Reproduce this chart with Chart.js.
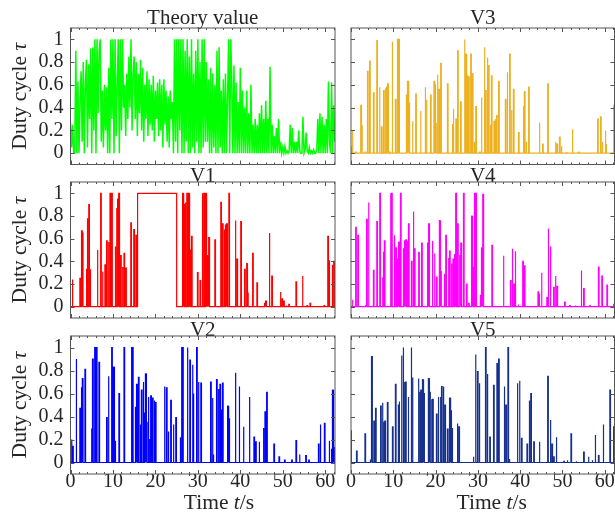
<!DOCTYPE html>
<html>
<head>
<meta charset="utf-8">
<script src="https://cdn.jsdelivr.net/npm/chart.js@4.4.1/dist/chart.umd.min.js"></script>
<style>
    html, body { margin: 0; padding: 0; background: #fff; }
    #fig { position: relative; width: 615px; height: 514px; overflow: hidden; }
    #fig canvas { position: absolute; }
</style>
</head>
<body>
<div id="fig">
    <canvas id="c0"></canvas>
    <canvas id="c1"></canvas>
    <canvas id="c2"></canvas>
    <canvas id="c3"></canvas>
    <canvas id="c4"></canvas>
    <canvas id="c5"></canvas>
</div>
<script>
/* =====================================
   Data
===================================== */
const xTicks = [0, 10, 20, 30, 40, 50, 60];
const xMinorTicks = [2, 4, 6, 8, 12, 14, 16, 18, 22, 24, 26, 28, 32, 34, 36, 38,
                     42, 44, 46, 48, 52, 54, 56, 58, 62];
const yTicks = [0, 0.2, 0.4, 0.6, 0.8, 1];
const titles = ["Theory value", "V1", "V2", "V3", "V4", "V5"];

// theory value, one sample every 0.25 s
const theoryStep = 0.25;
const theoryValues = [
    0.27, 0.05, 0.25, 0.0,   0.0, 0.9, 0.0, 0.63,    0.0, 0.45, 0.72, 0.1,   0.8, 0.0, 0.6, 0.82,
    0.05, 0.78, 0.3, 0.92,   0.0, 0.93, 0.2, 1.0,    0.0, 1.0, 0.35, 0.9,    1.0, 0.1, 0.55, 0.05,
    0.6, 0.2, 0.58, 0.0,     0.75, 0.0, 1.0, 0.3,    1.0, 0.0, 1.0, 0.15,    0.6, 1.0, 0.0, 1.0,
    0.2, 1.0, 0.4, 0.6,      0.15, 0.7, 0.3, 0.85,   0.4, 1.0, 0.2, 0.7,     0.85, 0.3, 0.8, 0.15,
    0.7, 0.35, 0.82, 0.2,    0.75, 0.1, 0.6, 0.3,    0.72, 0.15, 0.65, 0.25, 0.6, 0.2, 0.68, 0.1,
    0.55, 0.3, 0.62, 0.15,   0.65, 0.2, 0.6, 0.05,   0.65, 0.25, 0.55, 0.1,  0.5, 0.05, 0.55, 0.3,
    0.45, 0.0, 1.0, 0.1,     1.0, 0.0, 1.0, 0.2,     1.0, 0.0, 1.0, 0.0,     0.9, 0.1, 1.0, 0.0,
    0.85, 0.0, 1.0, 0.05,    0.7, 0.0, 0.9, 0.1,     1.0, 0.0, 0.8, 0.0,     1.0, 0.05, 1.0, 0.1,
    0.8, 0.1, 0.65, 0.0,     0.75, 0.0, 0.7, 0.05,   0.6, 0.0, 0.9, 0.0,     0.93, 0.05, 0.55, 0.0,
    0.65, 0.0, 0.7, 0.0,     0.5, 1.0, 0.0, 1.0,     0.6, 0.0, 0.77, 0.0,    0.62, 0.0, 0.45, 0.0,
    0.75, 0.0, 0.55, 0.0,    0.4, 0.0, 0.55, 0.0,    0.35, 0.0, 0.6, 0.0,    0.25, 0.0, 0.3, 0.0,
    0.25, 0.0, 0.35, 0.0,    0.42, 0.0, 0.3, 0.0,    0.46, 0.0, 0.3, 0.0,    0.76, 0.0, 0.25, 0.0,
    0.15, 0.0, 0.22, 0.0,    0.3, 0.0, 0.1, 0.0,     0.05, 0.0, 0.06, 0.0,   0.02, 0.0, 0.02, 0.25,
    0.0, 0.22, 0.0, 0.1,     0.0, 0.1, 0.0, 0.2,     0.02, 0.0, 0.0, 0.32,   0.0, 0.03, 0.18, 0.02,
    0.0, 0.05, 0.0, 0.02,    0.0, 0.03, 0.0, 0.0,    0.02, 0.3, 0.0, 0.35,   0.0, 0.32, 0.0, 0.25,
    0.0, 0.3, 0.0, 0.63,     0.1, 0.0, 0.62, 0.0,    0.42, 0.1
];

// pulses: [time s, duty cycle, optional hold s]
const v1Pulses = [[0.4,0.24],[2.2,0.25],[2.6,0.67],[2.8,0.65],[3.8,0.33],[3.95,0.78],[4.3,0.9],[4.6,0.33],
    [6.3,0.5],[7.1,1.0],[7.5,0.31],[8.1,0.37],[8.5,0.58],[8.9,0.57],[9.3,1.0],[9.7,1.0],[10.5,0.53],
    [10.8,0.87],[11.1,0.95],[11.4,1.0],[11.8,0.45],[12.2,0.35],[12.6,0.47],[13.0,0.34],[14.2,0.74],
    [14.9,0.68],[15.4,0.63],[15.8,1.0,9.2],[26.4,1.0],[26.7,0.9],[27.0,0.92],[27.4,1.0],[27.8,1.0],
    [28.1,0.5],[28.5,0.62],[29.9,0.3],[30.5,0.23],[31.0,1.0],[31.4,1.0],[31.8,1.0],[32.1,0.45],
    [32.3,0.12],[32.6,0.61],[34.0,0.59],[35.4,0.92],[35.8,0.73],[36.2,0.68],[36.5,0.72],[36.8,0.73],
    [37.3,1.0],[38.8,0.76],[39.2,0.42],[40.1,0.75],[41.0,0.33],[41.5,0.38],[41.7,0.12],[42.9,0.47],
    [43.9,0.21],[45.7,0.03],[46.0,0.05],[46.8,0.65],[47.4,0.27],[49.4,0.13],[49.8,0.07],[50.2,0.05],
    [50.8,0.01],[51.4,0.02],[53.1,0.22],[54.6,0.27],[55.7,0.01],[56.4,0.03],[59.7,0.01],[60.6,0.62],
    [60.9,0.41],[61.6,0.37],[62.0,0.4]];

const v2Pulses = [[0.2,0.2],[0.5,0.14],[1.3,0.9],[2.2,0.47],[2.6,0.65],[2.8,0.73],[3.4,0.81],[5.0,0.29],
    [5.2,0.9],[5.7,1.0],[6.1,1.0],[6.7,0.87],[8.5,0.39],[8.9,0.75],[9.7,1.0],[10.1,0.83],[10.3,0.28],
    [10.5,0.19],[11.4,0.6],[12.6,1.0],[14.4,1.0],[14.6,1.0],[15.3,0.48],[15.6,0.68],[16.0,0.74],
    [16.4,0.33],[16.7,0.63],[17.1,0.7],[17.4,0.43],[17.7,0.77],[17.9,0.35],[18.3,0.57],[18.7,0.2],
    [18.9,0.58],[19.3,0.56],[19.7,0.54],[20.0,0.52],[22.1,0.66],[22.6,0.65],[23.0,0.27],[23.6,0.54],
    [24.2,0.33],[24.8,0.39],[25.8,0.22],[26.2,1.0],[26.4,1.0],[27.5,1.0],[28.1,0.89],[28.7,0.85],
    [28.9,0.6],[29.7,1.0],[30.1,0.7],[30.7,0.69],[33.0,0.7],[33.4,0.56],[33.6,0.07],[34.4,0.72],
    [34.8,0.64],[35.2,0.68],[35.5,0.46],[35.8,0.69],[37.0,0.49],[37.3,0.38],[38.8,0.78],[39.7,0.66],
    [40.7,0.31],[42.1,0.57],[43.2,0.22],[43.6,0.18],[44.4,0.18],[45.4,0.3],[45.8,0.44],[46.2,0.61],
    [47.9,0.16],[49.1,0.05],[50.4,0.02],[52.1,0.02],[53.1,0.19],[53.9,0.07],[55.4,0.06],[56.1,0.02],
    [58.4,0.16],[58.8,0.33],[59.8,0.34],[60.9,0.19],[61.4,0.12],[61.7,0.63],[62.0,0.13]];

const v3Pulses = [[0.0,0.06],[0.3,0.2],[1.1,0.01],[2.3,0.42],[2.5,0.24],[3.3,0.01],[3.9,0.72],[4.4,0.81],
    [5.3,0.53],[6.1,0.99],[6.7,0.58],[7.2,0.23],[7.7,0.55],[8.1,0.57],[8.4,0.58],[8.7,0.61],[9.2,0.01],
    [9.7,0.98],[10.5,0.47],[11.0,1.0],[11.3,1.0],[13.1,0.51],[13.4,0.63],[13.7,0.44],[14.5,0.28],
    [15.3,0.52],[16.4,0.37],[17.5,0.58],[17.8,0.47],[18.8,0.51],[19.6,0.63],[19.8,0.6],[20.0,0.26],
    [20.4,0.69],[20.8,0.56],[21.2,0.79],[22.8,0.61],[24.0,0.25],[24.2,0.39],[24.8,0.3],[25.2,0.9],
    [25.9,0.45],[26.8,1.0],[27.1,0.87],[27.4,0.68],[27.8,0.67],[28.3,0.87],[28.7,0.7],[29.1,0.1],
    [29.5,0.41],[30.4,0.01],[30.8,0.49],[31.5,0.93],[31.8,0.55],[32.2,0.84],[32.5,0.77],[32.9,0.25],
    [33.2,0.68],[33.8,0.28],[34.1,0.3],[34.4,0.33],[34.9,0.63],[36.5,0.47],[36.9,0.71],[37.5,0.87],
    [37.9,0.38],[38.4,0.56],[39.6,0.18],[40.8,0.41],[41.0,0.54],[41.4,0.1],[42.0,0.58],[44.5,0.27],
    [45.3,0.08],[46.5,0.61],[48.3,0.1],[48.7,0.08],[49.3,0.14],[49.7,0.06],[50.9,0.01],[52.3,0.21],
    [53.8,0.01],[58.3,0.3],[59.0,0.32],[59.4,0.1],[60.1,0.2],[60.3,0.08],[62.1,0.42]];

const v4Pulses = [[0.3,0.06],[1.1,0.7],[1.6,0.63],[3.5,0.01],[3.7,0.77],[4.1,0.92],[5.3,0.32],[6.1,0.75],
    [6.8,1.0],[7.4,0.26],[7.7,0.48],[7.9,0.58],[9.3,1.0],[9.6,1.0],[10.2,0.63],[10.6,0.52],[11.0,0.42],
    [11.3,0.57],[11.7,1.0],[12.4,0.51],[12.7,0.58],[13.0,0.59],[13.3,0.58],[13.6,0.73],[14.3,0.4],
    [14.7,0.84],[15.0,0.51],[16.0,0.48],[16.7,0.56],[18.1,0.56],[18.4,0.73],[19.2,0.58],[19.7,0.47],
    [20.2,0.26],[20.9,0.76],[21.2,0.31],[22.0,0.29],[22.4,0.63],[23.0,0.43],[23.3,0.49],[23.7,0.38],
    [24.1,0.42],[24.5,0.46],[24.8,1.0],[25.2,0.73],[25.7,0.45],[26.0,0.56],[26.6,1.0],[27.3,0.2],
    [27.8,0.03],[28.5,0.8],[28.8,0.35],[29.2,1.0],[29.5,1.0],[30.6,0.1],[30.9,0.52],[31.2,0.99],
    [33.3,0.54],[36.0,0.45],[37.7,0.23],[38.1,0.51],[38.5,0.2],[38.8,0.49],[39.5,0.02],[40.6,0.4],
    [41.0,0.36],[44.2,0.13],[44.4,0.11],[45.0,0.3],[46.3,0.08],[46.6,0.69],[47.1,0.53],[47.9,0.17],
    [48.3,0.27],[48.7,0.18],[50.5,0.04],[51.7,0.01],[53.0,0.01],[54.4,0.32],[55.0,0.16],[56.4,0.01],
    [58.5,0.35],[59.3,0.27],[60.5,0.19],[62.1,0.02]];

const v5Pulses = [[0.0,0.28],[1.3,0.1],[3.3,0.25],[4.6,0.02],[4.9,0.92],[5.4,0.36],[5.8,0.47],[7.0,0.49],
    [7.4,0.52],[7.8,0.35],[8.0,0.36],[8.6,0.52],[9.8,0.31],[10.5,0.68],[11.2,0.5],[11.4,0.53],[11.9,0.93],
    [12.3,1.0],[12.6,0.7],[12.9,0.7],[13.5,0.57],[14.2,1.0],[14.5,0.74],[15.9,0.73],[16.3,0.61],
    [16.5,0.63],[16.9,0.72],[17.2,0.6],[18.3,0.73],[18.6,0.61],[19.0,0.55],[19.3,0.55],[20.2,0.42],
    [20.6,0.57],[21.1,0.57],[21.4,0.66],[21.8,0.66],[22.2,0.5],[22.8,0.29],[23.3,0.56],[23.6,0.45],
    [23.9,0.3],[25.1,0.34],[25.5,0.31],[28.9,0.05],[29.4,0.94],[29.9,0.79],[30.3,0.69],[31.8,1.0],
    [32.2,0.77],[32.8,0.22],[33.7,0.67],[34.5,0.86],[34.9,0.9],[36.2,0.66],[36.6,0.5],[37.1,1.0],
    [37.4,0.03],[39.3,0.69],[39.8,0.71],[40.3,0.21],[41.6,0.16],[42.1,0.54],[42.5,0.6],[43.2,0.18],
    [44.5,0.18],[46.5,0.75],[47.1,0.37],[47.5,0.16],[47.9,0.05],[48.5,0.22],[50.3,0.01],[51.1,0.02],
    [52.0,0.25],[53.2,0.01],[55.0,0.09],[56.1,0.05],[57.0,0.02],[57.7,0.24],[58.5,0.06],[59.6,0.33],
    [61.2,0.63],[62.1,0.31]];


/* =====================================
   Layout / style
===================================== */
const X_MAX = 62.3;
const PULSE_HOLD = 0.15;
const FONT = "'Liberation Serif', 'Times New Roman', serif";
const TEXT_COLOR = "#262626";
const FRAME_COLOR = "#555";

// columns: canvas left, width, y-axis width, right padding
const cols = [
    { left: 0, width: 340, axisW: 70.5, padRight: 5, xLabelCenter: 219 },
    { left: 340, width: 275, axisW: 11, padRight: 0.5, xLabelCenter: 151.7 }
];
// rows: canvas top, height, space above plot, x-axis height
const rows = [
    { top: 0, height: 170, areaTop: 28, axisH: 5.5 },
    { top: 158, height: 170, areaTop: 24, axisH: 10 },
    { top: 312, height: 202, areaTop: 24, axisH: 40 }
];


/* =====================================
   Build line points
===================================== */
function theoryPoints() {
    return theoryValues.map((v, i) => ({ x: i * theoryStep, y: v }));
}

function pulsePoints(pulses) {
    let pts = [{ x: 0, y: 0 }];
    pulses.forEach(p => {
        let t = p[0], v = p[1], hold = p[2] || PULSE_HOLD;
        pts.push({ x: t, y: 0 }, { x: t, y: v }, { x: t + hold, y: v }, { x: t + hold, y: 0 });
    });
    pts.push({ x: X_MAX, y: 0 });
    return pts;
}


/* =====================================
   Plugins: frame with inward ticks, axis labels
===================================== */
const framePlugin = {
    id: "frame",
    afterDatasetsDraw(chart) {
        const { ctx, chartArea: a, scales } = chart;
        const sx = scales.x, sy = scales.y;
        ctx.save();
        ctx.strokeStyle = FRAME_COLOR;
        ctx.lineWidth = 1;
        ctx.beginPath();
        const tick = (list, len) => {
            list.forEach(v => {
                let px = Math.round(sx.getPixelForValue(v)) + 0.5;
                if (px > a.right) return;
                ctx.moveTo(px, a.bottom); ctx.lineTo(px, a.bottom - len);
                ctx.moveTo(px, a.top); ctx.lineTo(px, a.top + len);
            });
        };
        tick(xTicks, 4);
        tick(xMinorTicks, 2);
        yTicks.forEach(v => {
            let py = Math.round(sy.getPixelForValue(v)) + 0.5;
            ctx.moveTo(a.left, py); ctx.lineTo(a.left + 4, py);
            ctx.moveTo(a.right, py); ctx.lineTo(a.right - 4, py);
        });
        ctx.stroke();
        ctx.strokeRect(a.left, a.top, a.right - a.left, a.bottom - a.top);
        ctx.restore();
    }
};

function drawMixed(ctx, parts, cx, baseY) {
    let widths = parts.map(p => {
        ctx.font = (p[1] ? "italic " : "") + "21.5px " + FONT;
        return ctx.measureText(p[0]).width;
    });
    let total = widths.reduce((s, w) => s + w, 0);
    let x = cx - total / 2;
    parts.forEach((p, i) => {
        ctx.font = (p[1] ? "italic " : "") + "21.5px " + FONT;
        ctx.fillText(p[0], x, baseY);
        x += widths[i];
    });
}

const axisLabelPlugin = {
    id: "axisLabels",
    afterDraw(chart, args, opts) {
        const { ctx, chartArea: a } = chart;
        ctx.save();
        ctx.fillStyle = TEXT_COLOR;
        ctx.textBaseline = "alphabetic";
        ctx.textAlign = "left";
        if (opts.yLabel) {
            ctx.save();
            ctx.translate(26, (a.top + a.bottom) / 2);
            ctx.rotate(-Math.PI / 2);
            drawMixed(ctx, [["Duty cycle ", false], ["\u03c4", true]], 0, 0);
            ctx.restore();
        }
        if (opts.xLabel) {
            drawMixed(ctx, [["Time ", false], ["t", true], ["/s", false]], opts.xCenter, chart.height - 5);
        }
        ctx.restore();
    }
};

// keep tick labels from pushing the plot area around
function noPadding(s) {
    s.paddingTop = 0;
    s.paddingBottom = 0;
    s.paddingLeft = 0;
    s.paddingRight = 0;
}


/* =====================================
   Make panels
===================================== */
const panelData = [theoryPoints(), pulsePoints(v1Pulses), pulsePoints(v2Pulses),
                   pulsePoints(v3Pulses), pulsePoints(v4Pulses), pulsePoints(v5Pulses)];
const panelColors = ["#00ff00", "#ff0000", "#0000ff", "#edb120", "#ff00ff", "#17308f"];
const panelLineW = [1.5, 1.2, 1.2, 1.2, 1.2, 1.2];

function makePanel(i) {
    const col = cols[Math.floor(i / 3)];
    const row = rows[i % 3];
    const leftCol = i < 3, bottomRow = i % 3 === 2;

    const canvas = document.getElementById("c" + i);
    canvas.width = col.width;
    canvas.height = row.height;
    canvas.style.left = col.left + "px";
    canvas.style.top = row.top + "px";

    new Chart(canvas, {
        type: "line",
        data: {
            datasets: [{
                data: panelData[i],
                borderColor: panelColors[i],
                borderWidth: panelLineW[i],
                pointRadius: 0,
                tension: 0,
                fill: false
            }]
        },
        options: {
            responsive: false,
            animation: false,
            events: [],
            layout: { padding: { left: 0, right: col.padRight, top: 0, bottom: 0 } },
            scales: {
                x: {
                    type: "linear",
                    min: 0,
                    max: X_MAX,
                    grid: { display: false, drawTicks: false },
                    border: { display: false },
                    afterBuildTicks: s => { s.ticks = xTicks.map(v => ({ value: v })); },
                    afterFit: s => { s.height = row.axisH; noPadding(s); },
                    ticks: {
                        display: bottomRow,
                        autoSkip: false,
                        maxRotation: 0,
                        padding: -4,
                        color: TEXT_COLOR,
                        font: { family: FONT, size: 20 },
                        callback: v => String(v)
                    }
                },
                y: {
                    min: -0.1,
                    max: 1.1,
                    grid: { display: false, drawTicks: false },
                    border: { display: false },
                    afterBuildTicks: s => { s.ticks = yTicks.map(v => ({ value: v })); },
                    afterFit: s => { s.width = col.axisW; noPadding(s); },
                    ticks: {
                        display: leftCol,
                        padding: 7,
                        color: TEXT_COLOR,
                        font: { family: FONT, size: 20 },
                        callback: v => String(v)
                    }
                }
            },
            plugins: {
                legend: { display: false },
                tooltip: { enabled: false },
                title: {
                    display: true,
                    text: titles[i],
                    fullSize: false,
                    color: TEXT_COLOR,
                    font: { family: FONT, size: 21, weight: "normal", lineHeight: "10px" },
                    padding: { top: 13, bottom: row.areaTop - 23 }
                },
                axisLabels: { yLabel: leftCol, xLabel: bottomRow, xCenter: col.xLabelCenter }
            }
        },
        plugins: [framePlugin, axisLabelPlugin]
    });
}

for (let i = 0; i < 6; i++) {
    makePanel(i);
}
</script>
</body>
</html>
